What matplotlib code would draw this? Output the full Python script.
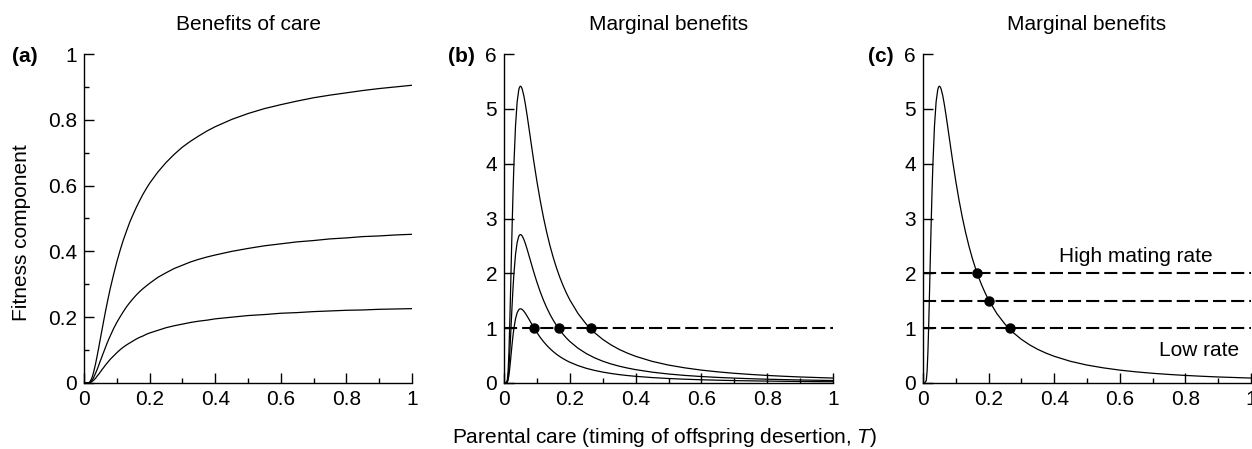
import matplotlib
matplotlib.use("Agg")
import matplotlib.pyplot as plt
from matplotlib.ticker import MultipleLocator

plt.rcParams['font.family'] = ['Liberation Sans', 'DejaVu Sans']
plt.rcParams['mathtext.fontset'] = 'custom'
plt.rcParams['mathtext.rm'] = 'Liberation Sans'
plt.rcParams['mathtext.it'] = 'Liberation Sans:italic'

# timing of offspring desertion, T
t = [0, 0.005, 0.01, 0.0125, 0.015, 0.0175, 0.02, 0.0225, 0.025, 0.0275,
     0.03, 0.035, 0.04, 0.045, 0.0475, 0.05, 0.0525, 0.055, 0.06, 0.065,
     0.07, 0.075, 0.08, 0.09, 0.10, 0.11, 0.12, 0.13, 0.14, 0.15,
     0.16, 0.17, 0.18, 0.19, 0.20, 0.225, 0.25, 0.275, 0.30, 0.325,
     0.35, 0.375, 0.40, 0.45, 0.50, 0.55, 0.60, 0.65, 0.70, 0.75,
     0.80, 0.85, 0.90, 0.95, 1.00]

# (a) benefits of care
benefit_high = [0, 0.000, 0.000, 0.000, 0.001, 0.003, 0.007, 0.012, 0.018, 0.026,
                0.036, 0.057, 0.082, 0.108, 0.122, 0.135, 0.149, 0.162, 0.189, 0.215,
                0.240, 0.264, 0.287, 0.329, 0.368, 0.403, 0.435, 0.463, 0.490, 0.513,
                0.535, 0.555, 0.574, 0.591, 0.607, 0.641, 0.670, 0.695, 0.717, 0.735,
                0.751, 0.766, 0.779, 0.801, 0.819, 0.834, 0.846, 0.857, 0.867, 0.875,
                0.882, 0.889, 0.895, 0.900, 0.905]
benefit_mid = [0, 0, 0, 0, 0.001, 0.002, 0.003, 0.006, 0.009, 0.013,
               0.018, 0.029, 0.041, 0.054, 0.061, 0.068, 0.074, 0.081, 0.094, 0.107,
               0.120, 0.132, 0.143, 0.165, 0.184, 0.201, 0.217, 0.232, 0.245, 0.257,
               0.268, 0.278, 0.287, 0.295, 0.303, 0.321, 0.335, 0.348, 0.358, 0.368,
               0.376, 0.383, 0.389, 0.400, 0.409, 0.417, 0.423, 0.429, 0.433, 0.438,
               0.441, 0.445, 0.447, 0.450, 0.452]
benefit_low = [0, 0, 0, 0, 0.000, 0.001, 0.002, 0.003, 0.005, 0.007,
               0.009, 0.014, 0.021, 0.027, 0.030, 0.034, 0.037, 0.041, 0.047, 0.054,
               0.060, 0.066, 0.072, 0.082, 0.092, 0.101, 0.109, 0.116, 0.122, 0.128,
               0.134, 0.139, 0.143, 0.148, 0.152, 0.160, 0.168, 0.174, 0.179, 0.184,
               0.188, 0.191, 0.195, 0.200, 0.205, 0.208, 0.212, 0.214, 0.217, 0.219,
               0.221, 0.222, 0.224, 0.225, 0.226]

# (b), (c) marginal benefits
marginal_high = [0, 0.000, 0.045, 0.215, 0.566, 1.078, 1.684, 2.320, 2.931, 3.484,
                 3.964, 4.688, 5.130, 5.351, 5.399, 5.413, 5.400, 5.366, 5.247, 5.082,
                 4.891, 4.686, 4.477, 4.064, 3.679, 3.330, 3.018, 2.742, 2.498, 2.282,
                 2.091, 1.921, 1.771, 1.636, 1.516, 1.267, 1.073, 0.919, 0.796, 0.696,
                 0.613, 0.545, 0.487, 0.395, 0.327, 0.276, 0.235, 0.203, 0.177, 0.156,
                 0.138, 0.123, 0.110, 0.100, 0.090]
marginal_mid = [0, 0, 0.023, 0.107, 0.283, 0.539, 0.842, 1.160, 1.466, 1.742,
                1.982, 2.344, 2.565, 2.676, 2.700, 2.707, 2.700, 2.683, 2.624, 2.541,
                2.446, 2.343, 2.239, 2.032, 1.840, 1.665, 1.509, 1.371, 1.249, 1.141,
                1.046, 0.961, 0.886, 0.818, 0.758, 0.634, 0.537, 0.460, 0.398, 0.348,
                0.307, 0.273, 0.244, 0.198, 0.164, 0.138, 0.118, 0.102, 0.089, 0.078,
                0.069, 0.062, 0.055, 0.050, 0.045]
marginal_low = [0, 0, 0.011, 0.054, 0.142, 0.269, 0.421, 0.580, 0.733, 0.871,
                0.991, 1.172, 1.283, 1.338, 1.350, 1.353, 1.350, 1.342, 1.312, 1.271,
                1.223, 1.172, 1.119, 1.016, 0.920, 0.833, 0.755, 0.686, 0.625, 0.571,
                0.523, 0.480, 0.443, 0.409, 0.379, 0.317, 0.268, 0.230, 0.199, 0.174,
                0.153, 0.136, 0.122, 0.099, 0.082, 0.069, 0.059, 0.051, 0.044, 0.039,
                0.035, 0.031, 0.028, 0.025, 0.023]

# (b) one mating rate, three optima
cost_b = 1.0
optima_b = [0.091, 0.166, 0.264]
# (c) three mating rates
cost_levels_c = [2.0, 1.5, 1.0]
optima_c = [0.165, 0.201, 0.264]

dash = (0, (6.3, 2.4))
fs = 15

fig = plt.figure(figsize=(12.52, 4.49), dpi=100)
W, H = 1252, 449


def make_axes(left, right, top=54, bottom=383):
    ax = fig.add_axes([left / W, 1 - bottom / H, (right - left) / W, (bottom - top) / H])
    ax.spines['top'].set_visible(False)
    ax.spines['right'].set_visible(False)
    ax.spines['left'].set_linewidth(1.0)
    ax.spines['bottom'].set_linewidth(1.0)
    ax.set_xlim(0, 1)
    ax.set_xticks([0, 0.2, 0.4, 0.6, 0.8, 1.0])
    ax.set_xticklabels(['0', '0.2', '0.4', '0.6', '0.8', '1'])
    ax.xaxis.set_minor_locator(MultipleLocator(0.1))
    ax.tick_params(which='both', direction='in', labelsize=fs, width=1.0, pad=5)
    ax.tick_params(which='major', length=7)
    ax.tick_params(which='minor', length=3.5)
    return ax


# (a)
ax1 = make_axes(84, 412)
for y in (benefit_high, benefit_mid, benefit_low):
    ax1.plot(t, y, color='black', lw=0.9)
ax1.set_ylim(0, 1)
ax1.set_yticks([0, 0.2, 0.4, 0.6, 0.8, 1.0])
ax1.set_yticklabels(['0', '0.2', '0.4', '0.6', '0.8', '1'])
ax1.yaxis.set_minor_locator(MultipleLocator(0.1))
ax1.set_title('Benefits of care', fontsize=fs, pad=17)

# (b)
ax2 = make_axes(504, 833)
for y in (marginal_high, marginal_mid, marginal_low):
    ax2.plot(t, y, color='black', lw=0.9)
ax2.axhline(cost_b, color='black', lw=1.5, linestyle=dash)
ax2.plot(optima_b, [cost_b] * len(optima_b), 'o', color='black', ms=6.5, zorder=5)
ax2.set_ylim(0, 6)
ax2.set_yticks(range(7))
ax2.yaxis.set_minor_locator(MultipleLocator(1))
ax2.set_title('Marginal benefits', fontsize=fs, pad=17)

# (c)
ax3 = make_axes(923, 1251)
ax3.plot(t, marginal_high, color='black', lw=0.9)
for level in cost_levels_c:
    ax3.axhline(level, color='black', lw=1.5, linestyle=dash)
ax3.plot(optima_c, cost_levels_c, 'o', color='black', ms=6.5, zorder=5)
ax3.set_ylim(0, 6)
ax3.set_yticks(range(7))
ax3.yaxis.set_minor_locator(MultipleLocator(1))
ax3.set_title('Marginal benefits', fontsize=fs, pad=17)
ax3.text(0.649, 2.30, 'High mating rate', fontsize=fs, ha='center', va='center')
ax3.text(0.841, 0.60, 'Low rate', fontsize=fs, ha='center', va='center')

# panel letters and shared labels
for x, lab in ((25, '(a)'), (461, '(b)'), (881, '(c)')):
    fig.text(x / W, 1 - 56 / H, lab, fontsize=fs, fontweight='bold', ha='center', va='center')
fig.text(22 / W, 1 - 233 / H, 'Fitness component', fontsize=fs, rotation=90,
         ha='center', va='center')
fig.text(665 / W, 1 - 443 / H, 'Parental care (timing of offspring desertion, $\\mathit{T}$)',
         fontsize=fs, ha='center', va='baseline')

fig.savefig('out.png', dpi=100)
